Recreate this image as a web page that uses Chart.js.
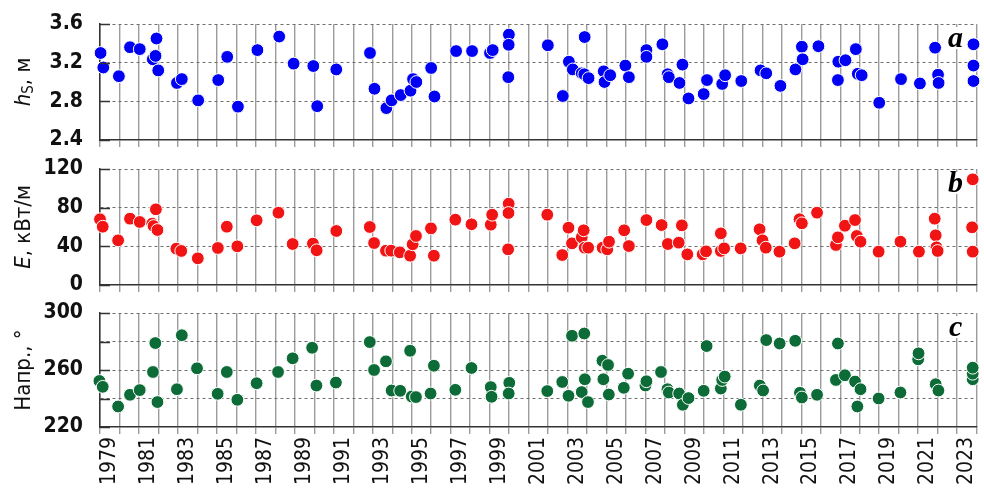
<!DOCTYPE html>
<html>
<head>
<meta charset="utf-8">
<script src="https://cdn.jsdelivr.net/npm/chart.js@4.4.1/dist/chart.umd.min.js"></script>
<style>
  html, body { margin: 0; padding: 0; background: #fff; overflow: hidden; }
  .panel { position: absolute; left: 0; width: 984px; }
</style>
</head>
<body>
<div class="panel" style="top:0;height:150px"><canvas id="chartA" width="984" height="150"></canvas></div>
<div class="panel" style="top:150px;height:145px"><canvas id="chartB" width="984" height="145"></canvas></div>
<div class="panel" style="top:295px;height:196px"><canvas id="chartC" width="984" height="196"></canvas></div>
<script>
// years of the storms (fractional) and values
const hsYears = [
  1979.03, 1979.17, 1979.97, 1980.54, 1981.04, 1981.71, 1981.85, 1981.90, 1981.99, 1982.95,
  1983.20, 1984.04, 1985.07, 1985.53, 1986.08, 1987.08, 1988.20, 1988.94, 1989.95, 1990.15,
  1991.13, 1992.86, 1993.09, 1993.70, 1993.97, 1994.44, 1994.94, 1995.07, 1995.24, 1996.00,
  1996.17, 1997.28, 1998.10, 1999.02, 1999.16, 1999.99, 1999.98, 1999.96, 2001.99, 2002.76,
  2003.07, 2003.27, 2003.73, 2003.88, 2003.86, 2004.08, 2004.86, 2004.90, 2005.19, 2005.97,
  2006.15, 2007.05, 2007.05, 2007.87, 2008.14, 2008.20, 2008.90, 2008.75, 2009.21, 2009.99,
  2010.16, 2010.94, 2011.09, 2011.92, 2012.91, 2013.20, 2013.93, 2014.70, 2015.03, 2015.07,
  2015.88, 2016.90, 2016.88, 2017.27, 2017.80, 2017.90, 2018.10, 2019.00, 2020.12, 2021.09,
  2021.87, 2022.02, 2022.05, 2023.84, 2023.84, 2023.84
];
const hsValues = [
  3.30, 3.15, 3.06, 3.36, 3.34, 3.235, 3.27, 3.45, 3.12, 2.99,
  3.03, 2.81, 3.02, 3.26, 2.745, 3.33, 3.47, 3.19, 3.165, 2.75,
  3.13, 3.30, 2.93, 2.73, 2.81, 2.865, 2.91, 3.03, 3.00, 3.145,
  2.85, 3.32, 3.32, 3.30, 3.33, 3.49, 3.385, 3.05, 3.38, 2.855,
  3.21, 3.13, 3.09, 3.465, 3.08, 3.04, 3.11, 3.00, 3.07, 3.17,
  3.05, 3.33, 3.26, 3.39, 3.08, 3.05, 3.18, 2.99, 2.83, 2.875,
  3.02, 2.98, 3.07, 3.01, 3.12, 3.09, 2.96, 3.13, 3.365, 3.235,
  3.37, 3.21, 3.02, 3.225, 3.34, 3.085, 3.07, 2.785, 3.03, 2.985,
  3.355, 3.075, 2.99, 3.39, 3.17, 3.01
];

const eYears = [
  1979.00, 1979.14, 1979.93, 1980.54, 1981.04, 1981.68, 1981.75, 1981.87, 1981.95, 1982.92,
  1983.17, 1984.02, 1985.05, 1985.51, 1986.05, 1987.04, 1988.16, 1988.89, 1989.93, 1990.12,
  1991.13, 1992.85, 1993.07, 1993.68, 1993.95, 1994.39, 1994.92, 1995.05, 1995.22, 1995.99,
  1996.14, 1997.24, 1998.07, 1999.06, 1999.13, 1999.98, 1999.97, 1999.95, 2001.96, 2002.73,
  2003.05, 2003.23, 2003.73, 2003.83, 2003.88, 2004.06, 2004.80, 2005.04, 2005.13, 2005.91,
  2006.15, 2007.05, 2007.83, 2008.15, 2008.71, 2008.87, 2009.15, 2009.94, 2010.11, 2010.87,
  2010.87, 2011.04, 2011.89, 2012.86, 2013.01, 2013.18, 2013.88, 2014.66, 2014.91, 2015.03,
  2015.81, 2016.78, 2016.88, 2017.24, 2017.76, 2017.85, 2018.04, 2018.97, 2020.09, 2021.04,
  2021.85, 2021.90, 2021.94, 2022.00, 2023.80, 2023.77, 2023.80
];
const eValues = [
  68, 60.3, 46.2, 68.6, 65.2, 63.4, 61, 78.3, 56.9, 37.6,
  35.2, 27.6, 38.3, 60.3, 40, 66.9, 74.8, 42.4, 42.8, 35.9,
  55.9, 60, 43.4, 35.5, 35.5, 33.8, 30.3, 42.1, 50.7, 58.6,
  30.3, 67.6, 62.8, 62.4, 72.7, 84.1, 74.5, 36.9, 72.7, 31,
  59.3, 43.1, 49.3, 56.6, 38.6, 38.6, 38.6, 36.9, 44.8, 56.6,
  40.3, 67.2, 62, 42.4, 43.8, 61.7, 31.7, 31.7, 34.8, 53.4,
  35.2, 37.9, 37.9, 57.6, 46.2, 38.6, 34.5, 43.1, 68, 63.8,
  74.8, 41.4, 49.3, 61.3, 67.2, 50.7, 44.8, 34.5, 44.8, 34.5,
  68.6, 51.4, 39, 35.2, 109.3, 59.7, 34.5
];

const dirYears = [
  1978.97, 1979.14, 1979.93, 1980.54, 1981.04, 1981.72, 1981.84, 1981.95, 1982.95, 1983.20,
  1983.98, 1985.04, 1985.51, 1986.05, 1987.04, 1988.14, 1988.89, 1989.89, 1990.11, 1991.11,
  1992.85, 1993.07, 1993.68, 1993.97, 1994.41, 1994.92, 1995.00, 1995.22, 1995.97, 1996.14,
  1997.24, 1998.07, 1999.06, 1999.10, 2000.01, 1999.98, 2001.96, 2002.73, 2003.05, 2003.23,
  2003.73, 2003.86, 2003.89, 2004.05, 2004.79, 2005.08, 2004.84, 2005.12, 2005.89, 2006.11,
  2007.00, 2007.05, 2007.80, 2008.13, 2008.20, 2008.73, 2008.92, 2009.21, 2009.99, 2010.14,
  2010.87, 2010.94, 2011.07, 2011.90, 2012.87, 2013.04, 2013.20, 2013.89, 2014.69, 2014.93,
  2015.03, 2015.81, 2016.78, 2016.88, 2017.24, 2017.76, 2017.88, 2018.04, 2018.97, 2020.09,
  2021.00, 2021.02, 2021.90, 2022.04, 2023.80, 2023.80, 2023.80
];
const dirValues = [
  252.3, 248.2, 234.4, 242.6, 245.9, 258.6, 278.9, 237.5, 246.5, 284.4,
  261.2, 243.3, 258.6, 239.1, 250.7, 258.6, 268.2, 275.6, 249.1, 251.2,
  279.6, 260, 266.1, 245.6, 245.4, 273.5, 241.4, 241, 243.5, 263,
  246.1, 261.4, 248, 241.2, 251, 243.5, 245.2, 251.6, 241.9, 284,
  244.5, 285.6, 253.5, 237.5, 266.5, 263.5, 253.5, 242.8, 247.5, 257.4,
  249.1, 252.1, 258.6, 246.5, 244.2, 243.5, 235.6, 240.3, 245.4, 276.8,
  247, 253, 255.4, 235.6, 249.1, 245.6, 281, 278.6, 280.5, 244,
  240.7, 242.6, 253, 278.6, 256.3, 251.9, 234.4, 246.5, 240, 244.2,
  267.5, 271.7, 250, 245.6, 253.5, 257.4, 261.6
];

// axis ranges and tick labels
const yearStart = 1979, yearEnd = 2024;
const hsTicks = [2.4, 2.8, 3.2, 3.6];
const eTicks = [0, 40, 80, 120];
const dirTicks = [220, 260, 300];

const tickFont = { family: '"DejaVu Sans Condensed", "DejaVu Sans", sans-serif', size: 21, weight: 'bold' };
const yearFont = { family: '"DejaVu Sans Condensed", "DejaVu Sans", sans-serif', size: 21 };
const clear = 'rgba(0,0,0,0)';

function near(a, b) { return Math.abs(a - b) < 1e-6; }

// inner tick marks, rotated axis title and panel letter
function decor(title, letter) {
  return {
    id: 'decor',
    afterDraw(chart) {
      const ctx = chart.ctx, area = chart.chartArea, y = chart.scales.y;
      ctx.save();
      ctx.strokeStyle = '#333';
      ctx.lineWidth = 1.5;
      y.ticks.forEach(t => {
        const py = Math.round(y.getPixelForValue(t.value)) + 0.5;
        ctx.beginPath();
        ctx.moveTo(area.left, py);
        ctx.lineTo(area.left + 10, py);
        ctx.stroke();
      });

      // axis title, written bottom to top
      const base = '22px "DejaVu Sans Condensed", "DejaVu Sans", sans-serif';
      const fontOf = s => s.sub ? '15px "DejaVu Sans Condensed", "DejaVu Sans", sans-serif'
                          : (s.italic ? 'italic ' + base : base);
      let total = 0;
      title.forEach(s => { ctx.font = fontOf(s); s.w = ctx.measureText(s.t).width; total += s.w; });
      ctx.translate(24, (area.top + area.bottom) / 2);
      ctx.rotate(-Math.PI / 2);
      ctx.fillStyle = '#111';
      ctx.textBaseline = 'middle';
      ctx.textAlign = 'left';
      let px = -total / 2;
      title.forEach(s => {
        ctx.font = fontOf(s);
        ctx.fillText(s.t, px, s.sub ? 5 : 0);
        px += s.w;
      });
      ctx.setTransform(1, 0, 0, 1, 0, 0);

      // panel letter
      ctx.font = 'italic bold 30px "Liberation Serif", serif';
      ctx.textAlign = 'center';
      ctx.textBaseline = 'alphabetic';
      const lx = area.right - 21, ly = area.top + 23;
      ctx.fillStyle = '#fff';
      ctx.fillRect(lx - 9, ly - 20, 18, 22);
      ctx.fillStyle = '#000';
      ctx.fillText(letter, lx, ly);
      ctx.restore();
    }
  };
}

function makePanel(p) {
  const points = p.xs.map((x, i) => ({ x: x, y: p.ys[i] }));
  return new Chart(document.getElementById(p.id), {
    type: 'scatter',
    data: {
      datasets: [{
        data: points,
        backgroundColor: p.color,
        borderColor: '#fff',
        borderWidth: 1,
        pointRadius: 6.4,
        pointHoverRadius: 6.4,
        clip: false
      }]
    },
    options: {
      responsive: false,
      animation: false,
      devicePixelRatio: 1,
      layout: { padding: { top: p.padTop, left: 0, right: 0, bottom: 0 } },
      plugins: { legend: { display: false }, tooltip: { enabled: false } },
      scales: {
        x: {
          type: 'linear',
          min: yearStart,
          max: yearEnd,
          afterBuildTicks: s => {
            const t = [];
            for (let v = yearStart; v <= yearEnd; v += 0.5) t.push({ value: v });
            s.ticks = t;
          },
          afterFit: s => { s.height = p.bottom; s.paddingLeft = 0; s.paddingRight = 0; },
          ticks: {
            display: p.showYears,
            autoSkip: false,
            minRotation: 90,
            maxRotation: 90,
            padding: 3,
            color: '#111',
            font: yearFont,
            callback: v => (v % 1 !== 0 && Math.floor(v) % 2 === 1) ? String(Math.floor(v)) : ''
          },
          grid: {
            color: c => (c.tick && Number.isInteger(c.tick.value)) ? '#9c9c9c' : clear,
            tickColor: c => (c.tick && Number.isInteger(c.tick.value)) ? '#9c9c9c' : clear,
            lineWidth: 1.4,
            tickWidth: 1.4,
            drawTicks: true,
            tickLength: 7
          },
          border: { color: '#333', width: 1.5 }
        },
        y: {
          min: p.min,
          max: p.max,
          afterBuildTicks: s => {
            const t = [];
            for (let i = 0; ; i++) {
              const v = +(p.min + i * p.step).toFixed(4);
              if (v > p.max + 1e-6) break;
              t.push({ value: v });
            }
            s.ticks = t;
          },
          afterFit: s => { s.width = 100; s.paddingTop = 0; s.paddingBottom = 0; },
          ticks: {
            padding: 17,
            color: '#111',
            font: tickFont,
            callback: v => p.labels.some(l => near(l, v)) ? v.toFixed(p.digits) : ''
          },
          grid: {
            color: c => {
              if (!c.tick || near(c.tick.value, p.min)) return clear;
              const k = (c.tick.value - p.min) / p.gridStep;
              return near(k, Math.round(k)) ? '#6e6e6e' : clear;
            },
            lineWidth: 1,
            drawTicks: false
          },
          border: { color: '#333', width: 1.5, dash: c => c.tick ? [3, 3] : [] }
        }
      }
    },
    plugins: [decor(p.title, p.letter)]
  });
}

makePanel({
  id: 'chartA', xs: hsYears, ys: hsValues, color: '#0000f2',
  min: 2.4, max: 3.6, step: 0.2, gridStep: 0.4, labels: hsTicks, digits: 1,
  padTop: 24, bottom: 10, showYears: false, letter: 'a',
  title: [{ t: 'h', italic: true }, { t: 'S', sub: true }, { t: ', м' }]
});
makePanel({
  id: 'chartB', xs: eYears, ys: eValues, color: '#f01414',
  min: 0, max: 120, step: 20, gridStep: 40, labels: eTicks, digits: 0,
  padTop: 19, bottom: 10, showYears: false, letter: 'b',
  title: [{ t: 'E', italic: true }, { t: ', кВт/м' }]
});
makePanel({
  id: 'chartC', xs: dirYears, ys: dirValues, color: '#0d6b37',
  min: 220, max: 300, step: 10, gridStep: 20, labels: dirTicks, digits: 0,
  padTop: 18, bottom: 64, showYears: true, letter: 'c',
  title: [{ t: 'Напр., °' }]
});
</script>
</body>
</html>
